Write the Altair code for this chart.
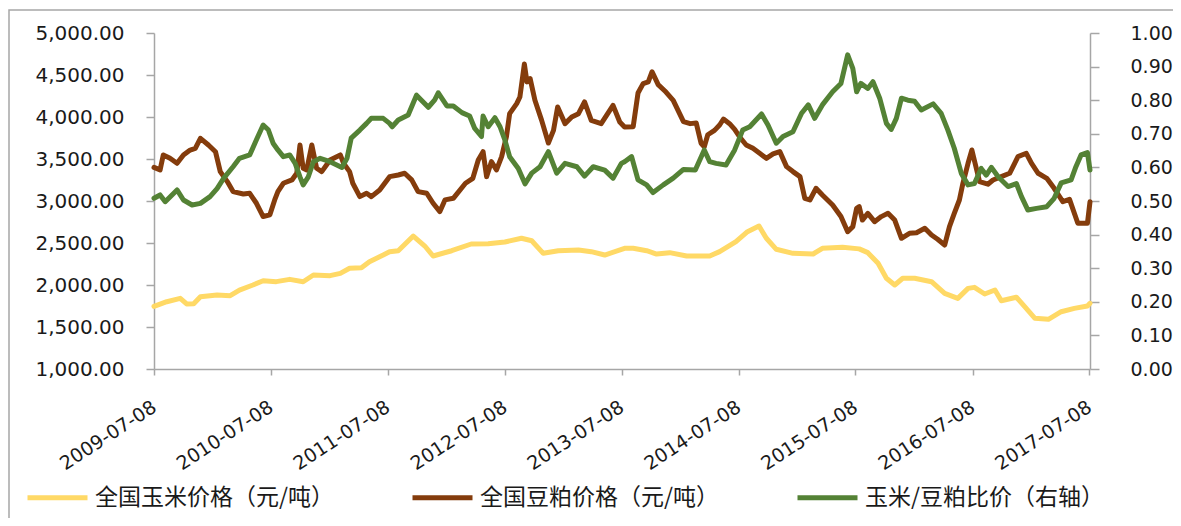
import altair as alt
import pandas as pd

# ---------------- data ----------------
corn_dates = [
    "2009-07-08", "2009-08-17", "2009-09-28", "2009-10-18", "2009-11-09", "2009-11-30",
    "2010-01-21", "2010-03-03", "2010-04-01", "2010-05-13", "2010-06-14", "2010-07-25",
    "2010-09-05", "2010-10-17", "2010-11-18", "2011-01-09", "2011-02-10", "2011-03-11",
    "2011-04-17", "2011-05-12", "2011-06-24", "2011-07-14", "2011-08-10", "2011-09-26",
    "2011-11-01", "2011-11-27", "2012-01-24", "2012-03-25", "2012-05-17", "2012-07-08",
    "2012-08-29", "2012-09-30", "2012-11-05", "2012-12-22", "2013-02-23", "2013-04-04",
    "2013-05-16", "2013-07-17", "2013-08-13", "2013-09-24", "2013-10-25", "2013-12-05",
    "2014-01-27", "2014-04-09", "2014-05-10", "2014-06-30", "2014-08-05", "2014-09-10",
    "2014-10-03", "2014-11-03", "2014-12-25", "2015-02-26", "2015-03-27", "2015-05-29",
    "2015-07-20", "2015-08-16", "2015-09-17", "2015-10-13", "2015-11-08", "2015-12-03",
    "2016-01-09", "2016-03-02", "2016-04-12", "2016-05-23", "2016-06-24", "2016-07-14",
    "2016-08-15", "2016-09-16", "2016-10-06", "2016-11-22", "2016-12-18", "2017-01-19",
    "2017-03-02", "2017-04-11", "2017-05-22", "2017-07-02", "2017-07-10",
]
corn_values = [
    1745, 1801, 1841, 1774, 1778, 1861,
    1881, 1873, 1940, 2000, 2051, 2040,
    2067, 2039, 2119, 2111, 2139, 2199,
    2206, 2278, 2357, 2396, 2408, 2583,
    2464, 2345, 2408, 2488, 2491, 2512,
    2556, 2527, 2377, 2408, 2417, 2397,
    2357, 2437, 2437, 2408, 2369, 2385,
    2345, 2345, 2397, 2516, 2635, 2702,
    2556, 2425, 2377, 2369, 2437, 2449,
    2430, 2385, 2258, 2080, 2000, 2080,
    2080, 2039, 1901, 1841, 1960, 1972,
    1893, 1940, 1813, 1854, 1742, 1603,
    1591, 1682, 1722, 1750, 1782,
]

meal_dates = [
    "2009-07-08", "2009-07-27", "2009-08-06", "2009-08-27", "2009-09-18", "2009-10-08",
    "2009-10-29", "2009-11-14", "2009-11-30", "2009-12-25", "2010-01-16", "2010-01-31",
    "2010-02-22", "2010-03-12", "2010-04-13", "2010-05-03", "2010-05-24", "2010-06-14",
    "2010-07-05", "2010-07-20", "2010-07-30", "2010-08-16", "2010-09-12", "2010-09-27",
    "2010-10-07", "2010-10-17", "2010-10-28", "2010-11-13", "2010-11-28", "2010-12-14",
    "2011-01-09", "2011-02-10", "2011-02-20", "2011-03-11", "2011-03-21", "2011-04-12",
    "2011-05-03", "2011-05-18", "2011-06-13", "2011-07-14", "2011-08-10", "2011-08-30",
    "2011-09-21", "2011-10-11", "2011-11-07", "2011-11-27", "2011-12-18", "2012-01-03",
    "2012-01-29", "2012-03-07", "2012-03-30", "2012-04-16", "2012-05-01", "2012-05-12",
    "2012-05-27", "2012-06-12", "2012-06-28", "2012-07-13", "2012-07-23", "2012-08-14",
    "2012-08-24", "2012-09-07", "2012-09-15", "2012-09-25", "2012-10-10", "2012-10-31",
    "2012-11-21", "2012-12-07", "2012-12-20", "2013-01-12", "2013-02-02", "2013-02-23",
    "2013-03-14", "2013-04-04", "2013-05-05", "2013-06-11", "2013-07-02", "2013-07-17",
    "2013-08-13", "2013-08-28", "2013-09-13", "2013-09-29", "2013-10-11", "2013-10-30",
    "2013-11-20", "2013-12-16", "2014-01-17", "2014-02-07", "2014-02-26", "2014-03-13",
    "2014-03-23", "2014-04-03", "2014-04-24", "2014-05-10", "2014-05-22", "2014-06-10",
    "2014-06-26", "2014-07-11", "2014-08-01", "2014-08-22", "2014-09-12", "2014-10-03",
    "2014-10-24", "2014-11-14", "2014-12-05", "2014-12-25", "2015-01-16", "2015-01-31",
    "2015-02-16", "2015-03-07", "2015-03-27", "2015-04-28", "2015-05-24", "2015-06-14",
    "2015-06-30", "2015-07-12", "2015-07-20", "2015-07-30", "2015-08-16", "2015-09-06",
    "2015-09-27", "2015-10-18", "2015-11-08", "2015-11-29", "2015-12-24", "2016-01-15",
    "2016-02-10", "2016-03-02", "2016-03-21", "2016-04-12", "2016-04-27", "2016-05-12",
    "2016-05-28", "2016-06-08", "2016-06-24", "2016-07-06", "2016-07-16", "2016-07-30",
    "2016-08-25", "2016-09-10", "2016-10-06", "2016-11-01", "2016-11-27", "2016-12-23",
    "2017-01-08", "2017-01-29", "2017-02-25", "2017-03-20", "2017-04-16", "2017-05-07",
    "2017-06-02", "2017-07-02", "2017-07-10",
]
meal_values = [
    3400, 3370, 3548, 3508, 3449, 3548,
    3607, 3627, 3746, 3667, 3587, 3350,
    3231, 3112, 3084, 3092, 2973, 2815,
    2835, 3013, 3112, 3211, 3251, 3330,
    3667, 3390, 3370, 3667, 3390, 3350,
    3488, 3548, 3450, 3350, 3211, 3052,
    3092, 3052, 3131, 3290, 3310, 3330,
    3251, 3112, 3092, 2973, 2874, 3013,
    3032, 3211, 3270, 3488, 3587, 3290,
    3468, 3370, 3528, 3766, 4040, 4159,
    4238, 4630, 4418, 4457, 4199, 3960,
    3690, 3841, 4119, 3921, 4000, 4040,
    4179, 3960, 3921, 4139, 3940, 3881,
    3885, 4285, 4397, 4417, 4539, 4385,
    4310, 4198, 3944, 3921, 3928, 3688,
    3646, 3789, 3841, 3905, 3976, 3921,
    3853, 3765, 3667, 3627, 3568, 3508,
    3560, 3588, 3409, 3350, 3290, 3032,
    3012, 3151, 3072, 2952, 2815, 2635,
    2695, 2913, 2933, 2773, 2853, 2754,
    2814, 2853, 2773, 2556, 2615, 2623,
    2675, 2595, 2544, 2476, 2695, 2853,
    3012, 3211, 3449, 3607, 3449, 3230,
    3200, 3250, 3290, 3330, 3528, 3568,
    3450, 3330, 3270, 3151, 2992, 3020,
    2735, 2735, 2992,
]

ratio_dates = [
    "2009-07-08", "2009-07-27", "2009-08-12", "2009-09-18", "2009-10-08", "2009-11-04",
    "2009-11-30", "2009-12-30", "2010-01-21", "2010-02-11", "2010-03-12", "2010-04-01",
    "2010-05-03", "2010-05-24", "2010-06-14", "2010-06-30", "2010-07-15", "2010-07-30",
    "2010-08-16", "2010-09-05", "2010-09-22", "2010-10-07", "2010-10-17", "2010-11-02",
    "2010-11-18", "2010-12-09", "2011-01-09", "2011-02-15", "2011-03-03", "2011-03-16",
    "2011-04-12", "2011-05-03", "2011-05-18", "2011-06-24", "2011-07-14", "2011-07-22",
    "2011-08-10", "2011-09-10", "2011-10-06", "2011-11-12", "2011-12-02", "2011-12-13",
    "2012-01-09", "2012-01-29", "2012-02-25", "2012-03-20", "2012-04-05", "2012-04-26",
    "2012-05-01", "2012-05-17", "2012-06-07", "2012-06-23", "2012-07-08", "2012-07-23",
    "2012-08-19", "2012-09-09", "2012-09-30", "2012-10-26", "2012-11-21", "2012-12-17",
    "2013-01-12", "2013-02-18", "2013-03-14", "2013-04-10", "2013-05-16", "2013-06-11",
    "2013-07-07", "2013-07-17", "2013-08-08", "2013-08-28", "2013-09-24", "2013-10-14",
    "2013-11-15", "2013-12-16", "2014-01-17", "2014-02-23", "2014-03-23", "2014-04-09",
    "2014-04-29", "2014-05-30", "2014-06-26", "2014-07-21", "2014-08-12", "2014-09-18",
    "2014-10-08", "2014-11-03", "2014-11-24", "2014-12-25", "2015-01-21", "2015-02-11",
    "2015-03-03", "2015-03-27", "2015-04-28", "2015-05-24", "2015-06-14", "2015-06-30",
    "2015-07-12", "2015-07-25", "2015-08-16", "2015-09-01", "2015-09-22", "2015-10-13",
    "2015-10-28", "2015-11-13", "2015-11-29", "2015-12-19", "2016-01-09", "2016-01-30",
    "2016-03-07", "2016-04-01", "2016-04-22", "2016-05-12", "2016-06-03", "2016-06-24",
    "2016-07-14", "2016-08-04", "2016-08-20", "2016-09-05", "2016-09-26", "2016-10-27",
    "2016-11-22", "2016-12-08", "2016-12-28", "2017-01-24", "2017-02-25", "2017-03-20",
    "2017-04-11", "2017-05-12", "2017-05-27", "2017-06-12", "2017-07-02", "2017-07-10",
]
ratio_values = [
    0.508, 0.518, 0.498, 0.533, 0.503, 0.488,
    0.493, 0.513, 0.537, 0.568, 0.602, 0.627,
    0.637, 0.682, 0.726, 0.712, 0.672, 0.652,
    0.632, 0.637, 0.612, 0.572, 0.548, 0.572,
    0.617, 0.627, 0.617, 0.600, 0.627, 0.687,
    0.711, 0.731, 0.746, 0.746, 0.731, 0.721,
    0.741, 0.756, 0.815, 0.779, 0.801, 0.822,
    0.783, 0.783, 0.763, 0.753, 0.716, 0.692,
    0.753, 0.721, 0.748, 0.721, 0.682, 0.632,
    0.597, 0.551, 0.583, 0.602, 0.647, 0.583,
    0.612, 0.602, 0.574, 0.602, 0.592, 0.568,
    0.612, 0.617, 0.632, 0.563, 0.548, 0.525,
    0.548, 0.568, 0.594, 0.592, 0.652, 0.617,
    0.612, 0.607, 0.652, 0.711, 0.721, 0.759,
    0.726, 0.672, 0.692, 0.706, 0.761, 0.786,
    0.746, 0.786, 0.825, 0.850, 0.935, 0.895,
    0.825, 0.850, 0.835, 0.855, 0.806, 0.731,
    0.713, 0.746, 0.806, 0.800, 0.797, 0.771,
    0.789, 0.761, 0.711, 0.657, 0.582, 0.548,
    0.552, 0.597, 0.577, 0.600, 0.572, 0.543,
    0.552, 0.513, 0.473, 0.478, 0.483, 0.508,
    0.554, 0.563, 0.602, 0.637, 0.644, 0.592,
]

series_names = ["全国玉米价格（元/吨）", "全国豆粕价格（元/吨）", "玉米/豆粕比价（右轴）"]
series_colors = ["#FFD966", "#843C0C", "#548235"]
tick_years = [2009, 2010, 2011, 2012, 2013, 2014, 2015, 2016, 2017]
left_ticks = [1000, 1500, 2000, 2500, 3000, 3500, 4000, 4500, 5000]
right_ticks = [0.0, 0.1, 0.2, 0.3, 0.4, 0.5, 0.6, 0.7, 0.8, 0.9, 1.0]

# ---------------- tables ----------------
left_df = pd.concat([
    pd.DataFrame({"date": corn_dates, "value": corn_values, "series": series_names[0]}),
    pd.DataFrame({"date": meal_dates, "value": meal_values, "series": series_names[1]}),
], ignore_index=True)
right_df = pd.DataFrame({"date": ratio_dates, "value": ratio_values, "series": series_names[2]})

AXIS_GRAY = "#A6A6A6"
TEXT = "#1a1a1a"

x_enc = alt.X(
    "date:T",
    title=None,
    scale=alt.Scale(
        type="utc",
        domain=[alt.DateTime(year=2009, month=7, date=8, utc=True),
                alt.DateTime(year=2017, month=7, date=10, utc=True)],
    ),
    axis=alt.Axis(
        values=[alt.DateTime(year=y, month=7, date=8, utc=True) for y in tick_years],
        labelExpr="utcFormat(datum.value, '%Y-%m-%d')",
        labelAngle=-33,
        labelAlign="right",
        labelBaseline="middle",
        labelPadding=30,
        labelOverlap=False,
        labelFlush=False,
        labelBound=False,
        tickSize=6,
        labelFontSize=19,
    ),
)

color_enc = alt.Color(
    "series:N",
    scale=alt.Scale(domain=series_names, range=series_colors),
    legend=alt.Legend(
        title=None,
        orient="none",
        direction="horizontal",
        columns=3,
        legendX=-129,
        legendY=432,
        symbolType="stroke",
        symbolSize=3600,
        symbolStrokeWidth=5,
        labelFont="Noto Sans CJK SC",
        labelFontSize=23,
        labelColor=TEXT,
        labelLimit=500,
        labelOffset=5,
        columnPadding=67,
    ),
)

line_props = dict(strokeWidth=5, strokeJoin="round", strokeCap="round")

left_lines = alt.Chart(left_df).mark_line(**line_props).encode(
    x=x_enc,
    y=alt.Y(
        "value:Q",
        title=None,
        scale=alt.Scale(domain=[1000, 5000], nice=False, zero=False),
        axis=alt.Axis(values=left_ticks, format=",.2f", orient="left",
                      tickSize=8, labelPadding=22, labelFontSize=20),
    ),
    color=color_enc,
)

right_line = alt.Chart(right_df).mark_line(**line_props).encode(
    x=x_enc,
    y=alt.Y(
        "value:Q",
        title=None,
        scale=alt.Scale(domain=[0, 1], nice=False, zero=False),
        axis=alt.Axis(values=right_ticks, format=".2f", orient="right",
                      tickSize=9, labelPadding=31, labelFontSize=19),
    ),
    color=color_enc,
)

frame = alt.Chart(alt.Data(values=[{"f": 1}])).mark_rect(
    fill="transparent", stroke=AXIS_GRAY, strokeWidth=1.5
).encode(
    x=alt.value(-145), x2=alt.value(1040),
    y=alt.value(-23), y2=alt.value(500),
)

chart = alt.layer(frame, left_lines, right_line).resolve_scale(
    y="independent"
).properties(
    width=936,
    height=336,
    padding={"left": 146, "top": 25, "right": 83, "bottom": 149},
    autosize=alt.AutoSizeParams(type="none"),
).configure_view(
    strokeWidth=0
).configure_axis(
    grid=False,
    domainColor=AXIS_GRAY,
    tickColor=AXIS_GRAY,
    domainWidth=1.5,
    tickWidth=1.5,
    labelColor=TEXT,
    labelFont="DejaVu Sans",
    labelFontSize=19,
)

chart.save("out.html", embed_options={"renderer": "svg", "actions": False})
